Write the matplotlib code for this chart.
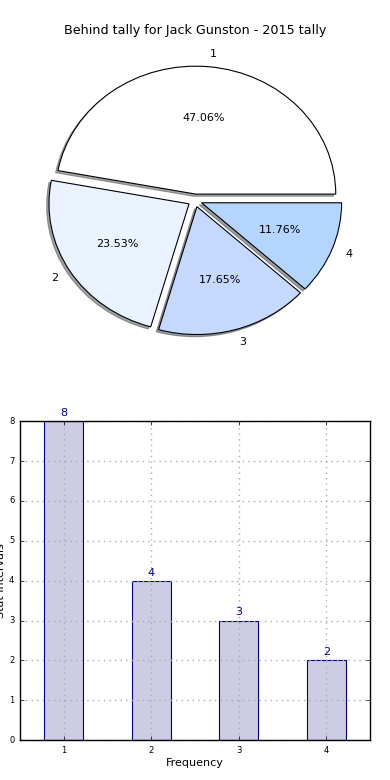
"""Behind tally pie + bar chart for Jack Gunston, 2015."""

import matplotlib
matplotlib.use("Agg")
import matplotlib.pyplot as plt

plt.style.use("classic")

categories = ["1", "2", "3", "4"]
counts = [8, 4, 3, 2]
pie_colors = ["#ffffff", "#eaf1ff", "#c5d9ff", "#b3d5ff"]
explode = [0.05, 0.05, 0.05, 0.05]
title = "Behind tally for Jack Gunston - 2015 tally"

fig = plt.figure(figsize=(3.9, 7.8), dpi=100)
fig.patch.set_facecolor("white")

# pie on top
ax_pie = fig.add_axes([0.051, 0.538, 0.898, 0.41])
wedges, texts, autotexts = ax_pie.pie(
    counts,
    labels=categories,
    colors=pie_colors,
    explode=explode,
    autopct="%.2f%%",
    shadow={"ox": -0.012, "oy": -0.012},
    startangle=0,
    labeldistance=1.1,
    pctdistance=0.6,
    wedgeprops={"linewidth": 0.8, "edgecolor": "black"},
    textprops={"fontsize": 8},
)
ax_pie.set_aspect("auto")
ax_pie.set_xlim(-1.25, 1.25)
ax_pie.set_ylim(-1.25, 1.25)
ax_pie.set_axis_off()
ax_pie.set_title(title, fontsize=9.2, y=1.0)

# bar chart below
ax_bar = fig.add_axes([0.051, 0.051, 0.898, 0.409])
x = [int(c) for c in categories]
ax_bar.bar(x, counts, width=0.45, align="center",
           color="navy", alpha=0.2, edgecolor="none")
ax_bar.bar(x, counts, width=0.45, align="center",
           facecolor="none", edgecolor="navy", linewidth=0.8)
for xi, val in zip(x, counts):
    ax_bar.text(xi, val + 0.08, str(val), ha="center", va="bottom",
                color="navy", fontsize=8)

ax_bar.set_xlim(0.5, 4.5)
ax_bar.set_ylim(0, 8)
ax_bar.set_xticks(x)
ax_bar.set_yticks(range(0, 9))
ax_bar.tick_params(labelsize=6, length=3)
ax_bar.grid(True, linestyle=":", color="#aaaaaa", linewidth=1.0)
ax_bar.set_axisbelow(False)
for spine in ax_bar.spines.values():
    spine.set_zorder(5)
ax_bar.set_xlabel("Frequency", fontsize=8, labelpad=2)
ax_bar.set_ylabel("Stat Intervals", fontsize=8, labelpad=2)

fig.savefig("out.png", dpi=100, facecolor="white")
